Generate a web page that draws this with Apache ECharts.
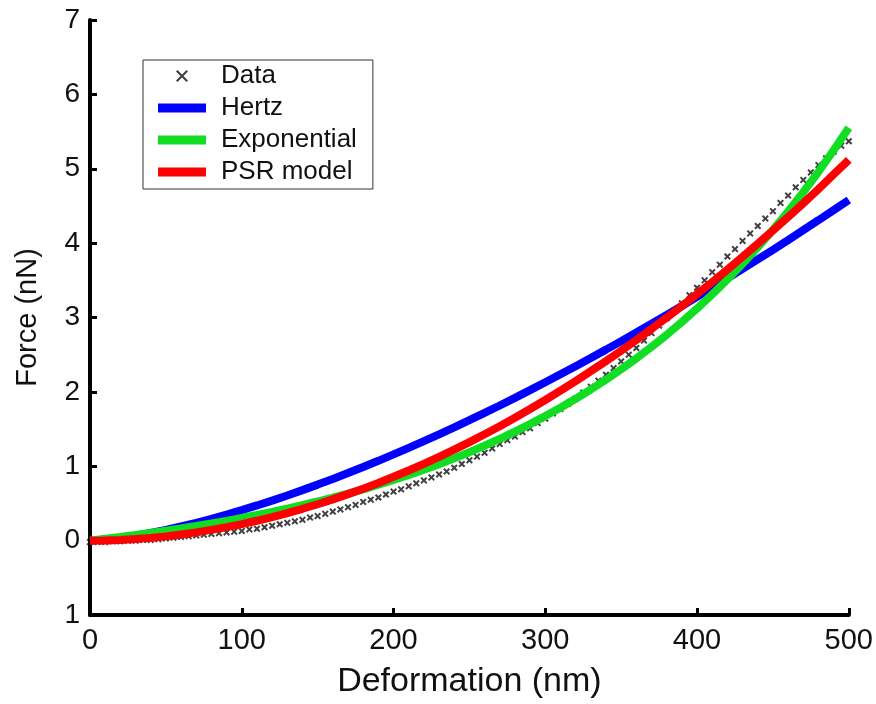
<!DOCTYPE html>
<html>
<head>
<meta charset="utf-8">
<script src="https://cdn.jsdelivr.net/npm/echarts@6/dist/echarts.min.js"></script>
<style>
  html, body { margin: 0; padding: 0; background: #fff; }
  #chart { width: 876px; height: 704px; }
</style>
</head>
<body>
<div id="chart"></div>
<script>
// Measured indentation: deformation (nm) and force (nN)
const dataX = [0,5,10,15,20,25,30,35,40,45,50,55,60,65,70,75,80,85,90,95,
  100,105,110,115,120,125,130,135,140,145,150,155,160,165,170,175,180,185,190,195,
  200,205,210,215,220,225,230,235,240,245,250,255,260,265,270,275,280,285,290,295,
  300,305,310,315,320,325,330,335,340,345,350,355,360,365,370,375,380,385,390,395,
  400,405,410,415,420,425,430,435,440,445,450,455,460,465,470,475,480,485,490,495,500];
const dataF = [-0.02,-0.02,-0.02,-0.01,-0.01,0.00,0.00,0.01,0.01,0.02,
  0.03,0.04,0.05,0.06,0.07,0.08,0.09,0.10,0.11,0.12,
  0.13,0.15,0.16,0.18,0.20,0.22,0.24,0.26,0.28,0.31,
  0.33,0.36,0.39,0.42,0.45,0.48,0.52,0.55,0.58,0.62,
  0.66,0.69,0.73,0.77,0.81,0.85,0.89,0.93,0.98,1.03,
  1.08,1.13,1.18,1.24,1.30,1.35,1.40,1.46,1.51,1.58,
  1.64,1.71,1.77,1.84,1.91,1.99,2.07,2.15,2.23,2.32,
  2.41,2.50,2.59,2.69,2.79,2.89,2.99,3.09,3.19,3.30,
  3.40,3.50,3.61,3.71,3.82,3.92,4.03,4.13,4.23,4.33,
  4.43,4.54,4.64,4.75,4.85,4.95,5.05,5.14,5.23,5.31,5.37];

// Fitted model curves sampled every 10 nm
const modelX = [0,10,20,30,40,50,60,70,80,90,100,110,120,130,140,150,160,170,180,190,
  200,210,220,230,240,250,260,270,280,290,300,310,320,330,340,350,360,370,380,390,
  400,410,420,430,440,450,460,470,480,490,500];
const hertzF = [0,0.013,0.037,0.067,0.104,0.145,0.190,0.240,0.293,0.350,
  0.410,0.473,0.538,0.607,0.679,0.753,0.829,0.908,0.989,1.073,
  1.159,1.247,1.337,1.429,1.523,1.619,1.717,1.817,1.919,2.023,
  2.129,2.236,2.345,2.456,2.568,2.682,2.798,2.916,3.035,3.155,
  3.277,3.401,3.526,3.653,3.781,3.910,4.041,4.174,4.308,4.443,4.580];
const expF = [0,0.024,0.049,0.075,0.103,0.132,0.163,0.196,0.230,0.266,
  0.304,0.344,0.386,0.430,0.477,0.526,0.578,0.633,0.690,0.751,
  0.815,0.882,0.953,1.028,1.106,1.189,1.276,1.368,1.465,1.567,
  1.674,1.787,1.907,2.032,2.164,2.304,2.450,2.605,2.768,2.939,
  3.120,3.310,3.511,3.722,3.944,4.178,4.425,4.685,4.959,5.248,5.551];
const psrF = [0,0.003,0.010,0.021,0.037,0.057,0.082,0.111,0.144,0.181,
  0.222,0.267,0.317,0.370,0.428,0.489,0.555,0.625,0.698,0.775,
  0.858,0.943,1.033,1.125,1.224,1.325,1.431,1.539,1.652,1.770,
  1.891,2.016,2.145,2.278,2.414,2.553,2.697,2.847,2.999,3.155,
  3.314,3.477,3.644,3.816,3.992,4.171,4.350,4.536,4.726,4.924,5.120];

const seriesNames = ['Data', 'Hertz', 'Exponential', 'PSR model'];
const yTickLabels = ['1', '0', '1', '2', '3', '4', '5', '6', '7'];
const xTickLabels = ['0', '100', '200', '300', '400', '500'];

// x-shaped marker, and a legend band (9 of 12 units tall, kept in a 48x12 box)
const crossPath = 'path://M0,2L2,0L5,3L8,0L10,2L7,5L10,8L8,10L5,7L2,10L0,8L3,5Z';
const legendCross = 'path://M1,2L2,1L5,4L8,1L9,2L6,5L9,8L8,9L5,6L2,9L1,8L4,5Z';
const bandPath = 'path://M0,0L0.01,0M0,1.5H48V10.5H0ZM48,12L47.99,12';
const pair = (xs, ys) => xs.map((x, i) => [x, ys[i]]);
const FONT = 'Liberation Sans, Arial, sans-serif';

const chart = echarts.init(document.getElementById('chart'), null, { renderer: 'canvas' });
chart.setOption({
  animation: false,
  backgroundColor: '#ffffff',
  grid: { left: 90, right: 26, top: 20, bottom: 78, containLabel: false },
  legend: {
    orient: 'vertical',
    left: 143, top: 60,
    padding: [3, 16, 4, 15],
    itemWidth: 48, itemHeight: 12, itemGap: 6,
    borderColor: '#333', borderWidth: 1,
    backgroundColor: '#fff',
    textStyle: { fontFamily: FONT, fontSize: 26, color: '#111', padding: [0, 0, 0, 10] },
    data: [
      { name: seriesNames[0], icon: legendCross, itemStyle: { color: '#111' } },
      { name: seriesNames[1], icon: bandPath },
      { name: seriesNames[2], icon: bandPath },
      { name: seriesNames[3], icon: bandPath }
    ]
  },
  xAxis: {
    type: 'value', min: 0, max: 500, interval: 100,
    name: 'Deformation (nm)', nameLocation: 'middle', nameGap: 50,
    nameTextStyle: { fontFamily: FONT, fontSize: 34, color: '#111' },
    axisLine: { show: true, onZero: false, lineStyle: { color: '#000', width: 4 } },
    axisTick: { show: true, inside: true, length: 7, lineStyle: { color: '#000', width: 3 } },
    axisLabel: { fontFamily: FONT, fontSize: 29, color: '#111', margin: 11,
      formatter: (v) => xTickLabels[Math.round(v / 100)] },
    splitLine: { show: false }
  },
  yAxis: {
    type: 'value', min: -1, max: 7, interval: 1,
    name: 'Force (nN)', nameLocation: 'middle', nameGap: 48,
    nameTextStyle: { fontFamily: FONT, fontSize: 29, color: '#111' },
    axisLine: { show: true, onZero: false, lineStyle: { color: '#000', width: 4 } },
    axisTick: { show: true, inside: true, length: 7, lineStyle: { color: '#000', width: 3 } },
    axisLabel: { fontFamily: FONT, fontSize: 28, color: '#111', margin: 10,
      formatter: (v) => yTickLabels[Math.round(v) + 1] },
    splitLine: { show: false }
  },
  series: [
    {
      name: seriesNames[0], type: 'scatter',
      data: pair(dataX, dataF),
      symbol: crossPath, symbolSize: 7,
      itemStyle: { color: '#111' },
      z: 1
    },
    {
      name: seriesNames[1], type: 'line', data: pair(modelX, hertzF),
      showSymbol: false, symbol: 'none', smooth: false,
      lineStyle: { color: '#0000ff', width: 8 }, itemStyle: { color: '#0000ff' }, z: 2
    },
    {
      name: seriesNames[2], type: 'line', data: pair(modelX, expF),
      showSymbol: false, symbol: 'none', smooth: false,
      lineStyle: { color: '#11dd22', width: 8 }, itemStyle: { color: '#11dd22' }, z: 3
    },
    {
      name: seriesNames[3], type: 'line', data: pair(modelX, psrF),
      showSymbol: false, symbol: 'none', smooth: false,
      lineStyle: { color: '#ff0000', width: 8 }, itemStyle: { color: '#ff0000' }, z: 4
    }
  ]
});
</script>
</body>
</html>
